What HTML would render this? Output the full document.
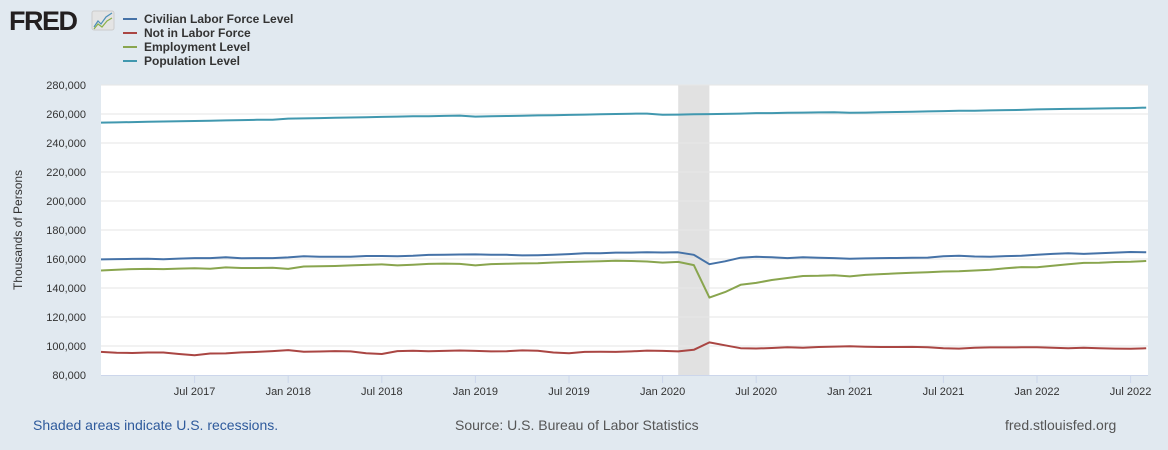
<!DOCTYPE html>
<html><head><meta charset="utf-8">
<style>
html,body{margin:0;padding:0;width:1168px;height:450px;background:#e1e9f0;overflow:hidden;font-family:"Liberation Sans",Arial,sans-serif;}
svg{display:block}
</style></head>
<body>
<svg id="chart" width="1168" height="450">
  <g>
    <text x="9" y="30" font-size="27" font-weight="bold" fill="#231f20" font-family="Liberation Sans, sans-serif" letter-spacing="-1.5">FRED</text>
    <rect x="92" y="11" width="22" height="19" rx="2" fill="#e4e4e4" stroke="#ccc"/>
    <polyline points="94,27 98,21 101,24 106,17 112,13" fill="none" stroke="#4d8fb8" stroke-width="1.2"/>
    <polyline points="94,29 98,24 102,27 107,21 112,18" fill="none" stroke="#8ab04a" stroke-width="1.2"/>
  </g>
  <g id="legend"></g>
  <rect x="101" y="85" width="1047" height="290" fill="#ffffff"/>
  <g id="grid"></g>
  <g id="series"></g>
  <g id="axes"></g>
  <text x="22" y="230" transform="rotate(-90 22 230)" text-anchor="middle" font-size="12" fill="#333">Thousands of Persons</text>
  <text x="33" y="430" font-size="14" fill="#2e5a9c">Shaded areas indicate U.S. recessions.</text>
  <text x="455" y="430" font-size="14" fill="#555">Source: U.S. Bureau of Labor Statistics</text>
  <text x="1005" y="430" font-size="14" fill="#555">fred.stlouisfed.org</text>
</svg>
<script>
const seriesNames = ["Civilian Labor Force Level","Not in Labor Force","Employment Level","Population Level"];
const seriesColors = ["#4572a7","#aa4643","#89a54e","#4198af"];
const yTicks = [80000,100000,120000,140000,160000,180000,200000,220000,240000,260000,280000];
const xTickLabels = ["Jul 2017","Jan 2018","Jul 2018","Jan 2019","Jul 2019","Jan 2020","Jul 2020","Jan 2021","Jul 2021","Jan 2022","Jul 2022"];
const xTickMonths = [6,12,18,24,30,36,42,48,54,60,66];
const recessionStart = 37, recessionEnd = 39;
const clf = [159.7,159.9,160.1,160.2,159.8,160.3,160.6,160.6,161.2,160.5,160.6,160.6,
161.1,161.9,161.5,161.5,161.6,162.1,162.1,161.9,162.2,162.8,163.0,163.1,
163.2,163.0,162.9,162.5,162.6,163.0,163.4,163.9,164.0,164.4,164.4,164.6,
164.5,164.6,162.9,156.4,158.4,160.9,161.5,161.2,160.6,161.2,160.8,160.6,
160.2,160.4,160.6,160.7,160.8,161.0,161.9,162.2,161.7,161.6,162.0,162.2,
162.9,163.5,163.9,163.5,163.9,164.4,164.8,164.6];
const nilf = [95.9,95.4,95.2,95.5,95.5,94.5,93.6,94.8,94.9,95.6,95.9,96.5,
97.2,96.0,96.2,96.5,96.3,95.0,94.5,96.5,96.7,96.4,96.6,96.9,
96.6,96.3,96.4,97.0,96.7,95.5,95.0,95.9,96.0,95.9,96.3,96.8,
96.6,96.3,97.4,102.5,100.5,98.5,98.3,98.6,99.2,98.8,99.3,99.6,
99.8,99.5,99.3,99.3,99.4,99.2,98.5,98.2,98.8,99.0,99.0,99.1,
99.2,98.8,98.4,98.8,98.5,98.2,98.1,98.4];
const emp = [152.1,152.6,153.0,153.2,153.0,153.4,153.6,153.3,154.2,153.8,153.8,153.9,
153.2,154.8,155.0,155.2,155.6,155.9,156.3,155.6,156.1,156.6,156.8,156.6,
155.6,156.5,156.7,157.0,157.1,157.6,157.9,158.2,158.5,158.8,158.6,158.3,
157.5,158.0,155.8,133.4,137.2,142.2,143.5,145.5,146.9,148.3,148.4,148.8,
148.0,149.0,149.6,150.1,150.5,150.8,151.4,151.6,152.1,152.6,153.6,154.4,
154.3,155.4,156.4,157.3,157.4,157.9,158.1,158.6];
const pop = [254.1,254.2,254.4,254.6,254.8,255.0,255.2,255.4,255.6,255.8,256.0,256.1,
256.8,257.0,257.2,257.4,257.6,257.8,258.0,258.2,258.4,258.5,258.7,258.9,
258.2,258.4,258.6,258.8,259.0,259.2,259.4,259.6,259.8,260.0,260.2,260.3,
259.5,259.6,259.8,259.9,260.1,260.3,260.6,260.6,260.8,261.0,261.1,261.2,
260.9,261.0,261.2,261.4,261.6,261.8,262.0,262.2,262.3,262.5,262.7,262.8,
263.2,263.4,263.5,263.6,263.8,263.9,264.1,264.4];
const allSeries = [clf,nilf,emp,pop];

const NS="http://www.w3.org/2000/svg";
const X0=101, X1=1148, Y0=85, Y1=375;
const pxPerMonth=15.6;
function xScale(m){return X0 + m*pxPerMonth;}
function yScale(v){return Y1 - (v-80000)/200000*(Y1-Y0);}
function mk(tag,attrs,parent){const e=document.createElementNS(NS,tag);for(const k in attrs)e.setAttribute(k,attrs[k]);parent.appendChild(e);return e;}

const grid=document.getElementById('grid');
const axes=document.getElementById('axes');
const series=document.getElementById('series');
const legend=document.getElementById('legend');

const rec=mk('rect',{x:xScale(recessionStart),y:Y0,width:xScale(recessionEnd)-xScale(recessionStart),height:Y1-Y0,fill:'#e1e1e1'},grid);



yTicks.forEach(v=>{
  const y=yScale(v);
  if(v>80000){const l=mk('line',{x1:X0,x2:X1,y1:y,y2:y,stroke:'#e6e6e6','stroke-width':1},grid);
  
  }
  const t=mk('text',{x:86,y:y+4,'text-anchor':'end','font-size':11,fill:'#333'},axes);
  t.textContent=v.toLocaleString('en-US');
  
  
});
const base=mk('line',{x1:X0,x2:X1,y1:Y1+0.5,y2:Y1+0.5,stroke:'#ccd6eb'},axes);


xTickLabels.forEach((lab,i)=>{
  const x=xScale(xTickMonths[i]);
  const tk=mk('line',{x1:x,x2:x,y1:Y1,y2:Y1+8,stroke:'#ccd6eb'},axes);
  
  
  const t=mk('text',{x:x,y:Y1+20,'text-anchor':'middle','font-size':11,fill:'#333'},axes);
  t.textContent=lab;
  
  
});

allSeries.forEach((d,si)=>{
  const pts=d.map((v,i)=>xScale(i).toFixed(1)+','+yScale(v*1000).toFixed(1)).join(' ');
  const p=mk('polyline',{points:pts,fill:'none',stroke:seriesColors[si],'stroke-width':2,'stroke-linejoin':'round'},series);
  
  
});

seriesNames.forEach((n,i)=>{
  const y=19+i*14;
  const g=mk('g',{},legend);
  
  
  mk('line',{x1:123,x2:137,y1:y,y2:y,stroke:seriesColors[i],'stroke-width':2},g);
  const t=mk('text',{x:144,y:y+4,'font-size':12,'font-weight':'bold',fill:'#333'},g);
  t.textContent=n;
});
</script>
</body></html>
